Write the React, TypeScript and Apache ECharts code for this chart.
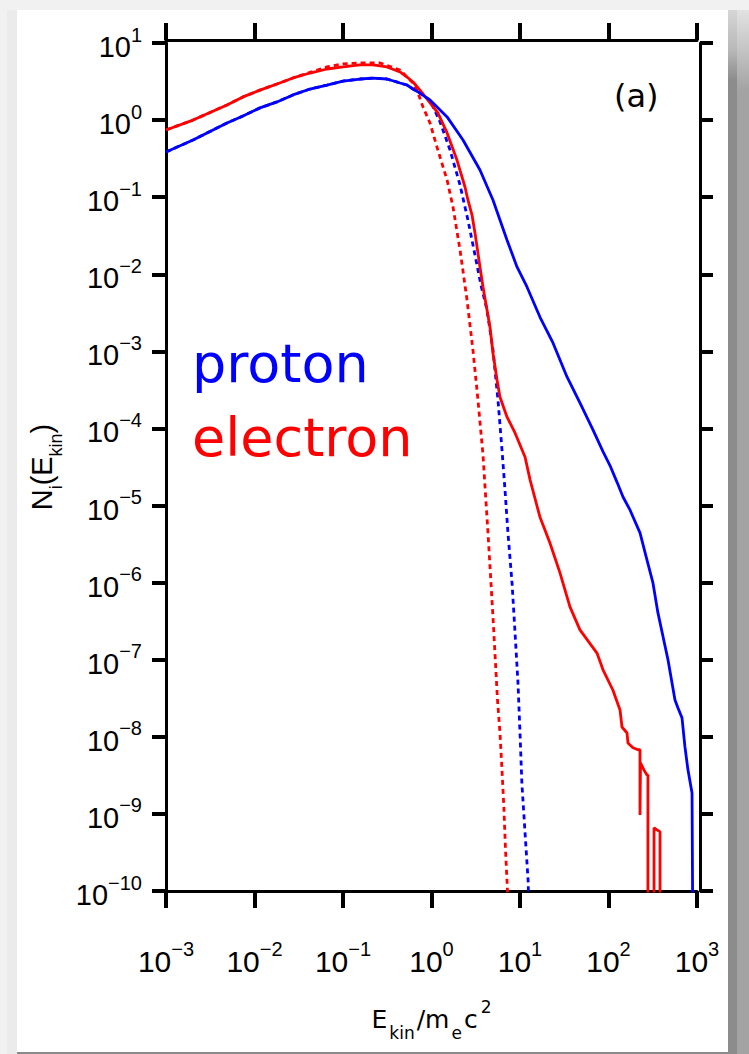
import React, { useEffect, useRef } from "react";
import * as echarts from "echarts";

// ---- axis ranges ----
const X_MIN = 1e-3;
const X_MAX = 1e3;
const Y_MIN = 1e-10;
const Y_MAX = 1e1;

// ---- proton, simulation (solid blue) ----
const protonE = [0.001, 0.00202, 0.00489, 0.00741, 0.01153, 0.01795, 0.0272, 0.0424, 0.0659, 0.1, 0.156, 0.218, 0.314, 0.441, 0.528, 0.618, 0.741, 0.962, 1.5, 2.27, 3.53, 4.95, 7.13, 9.25, 12.0, 16.8, 23.6, 34.0, 47.6, 66.8, 86.7, 104, 125, 146, 175, 227, 272, 318, 362, 470, 564, 610, 677, 731, 791, 879, 901];
const protonN = [0.385, 0.552, 0.916, 1.13, 1.44, 1.72, 2.12, 2.53, 2.85, 3.21, 3.41, 3.5, 3.41, 3.03, 2.85, 2.53, 2.24, 1.82, 1.1, 0.552, 0.2255, 0.0921, 0.0279, 0.01245, 0.00684, 0.00279, 0.001285, 0.000466, 0.000214, 9.57e-5, 5.0e-5, 3.3e-5, 2.0e-5, 1.29e-5, 8.77e-6, 4.42e-6, 1.97e-6, 9.9e-7, 4.05e-7, 1e-7, 3.0e-8, 2.37e-8, 1.76e-8, 7.4e-9, 3.7e-9, 1.87e-9, 1e-11];

// ---- proton, Maxwellian (dashed blue) ----
const protonMaxE = [0.001, 0.00202, 0.00489, 0.00741, 0.01153, 0.01795, 0.0272, 0.0424, 0.0659, 0.1, 0.156, 0.218, 0.314, 0.441, 0.528, 0.618, 0.741, 0.962, 1.25, 1.62, 2.1, 2.58, 3.1, 3.62, 4.24, 4.95, 5.64, 6.26, 6.77, 7.31, 8.13, 8.79, 9.49, 10.0, 10.5, 11.4, 12.4, 12.6];
const protonMaxN = [0.385, 0.552, 0.916, 1.13, 1.44, 1.72, 2.12, 2.53, 2.85, 3.21, 3.41, 3.5, 3.41, 3.03, 2.85, 2.53, 2.24, 1.82, 0.944, 0.409, 0.144, 0.0506, 0.0178, 0.00726, 0.00344, 0.00104, 2.34e-4, 5.26e-5, 1.59e-5, 4.4e-6, 9.9e-7, 2.23e-7, 5.0e-8, 1.12e-8, 2.5e-9, 5.7e-10, 1.27e-10, 1e-11];

// ---- electron, simulation (solid red) ----
const electronE = [0.001, 0.00202, 0.00489, 0.00741, 0.01153, 0.01795, 0.0272, 0.0424, 0.0659, 0.1, 0.156, 0.218, 0.314, 0.441, 0.528, 0.618, 0.741, 0.912, 1.18, 1.5, 1.94, 2.39, 2.58, 2.87, 3.1, 3.53, 3.82, 4.24, 4.58, 4.95, 5.5, 5.94, 7.13, 8.79, 11.4, 13.0, 16.8, 21.8, 28.3, 36.7, 47.6, 74.1, 86.7, 112, 135, 142, 162, 166, 189, 215, 227, 227, 230, 230, 252, 272, 279, 279, 327, 327, 382, 382];
const electronN = [0.745, 1.0, 1.57, 2.0, 2.45, 2.94, 3.52, 4.08, 4.6, 4.89, 5.19, 5.19, 4.89, 4.21, 3.62, 3.12, 2.45, 1.82, 1.24, 0.681, 0.303, 0.1355, 0.092, 0.0587, 0.0344, 0.01245, 0.00684, 0.00344, 0.00207, 0.000953, 0.000426, 0.000256, 0.000141, 8.75e-5, 4.27e-5, 2.15e-5, 7.1e-6, 3.27e-6, 1.34e-6, 4.84e-7, 2.44e-7, 1.22e-7, 7.4e-8, 4.05e-8, 2.23e-8, 1.34e-8, 1.12e-8, 8.3e-9, 7.2e-9, 6.8e-9, 6.8e-9, 9.7e-10, 9.7e-10, 4.6e-9, 3.7e-9, 3.2e-9, 3.2e-9, 1e-11, 1e-11, 6.6e-10, 5.85e-10, 1e-11];

// ---- electron, Maxwellian (dashed red) ----
const electronMaxE = [0.001, 0.00202, 0.00489, 0.00741, 0.01153, 0.01795, 0.0272, 0.0424, 0.0659, 0.1, 0.156, 0.262, 0.441, 0.618, 0.685, 0.802, 0.962, 1.18, 1.5, 1.75, 2.1, 2.52, 2.94, 3.35, 3.82, 4.35, 4.95, 5.57, 5.94, 6.26, 6.59, 6.86, 7.22, 7.3];
const electronMaxN = [0.745, 1.0, 1.57, 2.0, 2.45, 2.94, 3.52, 4.15, 4.89, 5.35, 5.5, 5.5, 4.47, 3.03, 2.45, 1.48, 0.916, 0.409, 0.167, 0.0746, 0.0207, 0.00465, 0.00104, 0.000234, 4.5e-5, 4.4e-6, 3.6e-7, 3.0e-8, 1.12e-8, 3.7e-9, 1.13e-9, 3.4e-10, 1.0e-10, 1e-11];

const BLUE = "#0000ff";
const RED = "#ff0000";
const F_LAB = "'Liberation Sans', Arial, sans-serif";
const F_SANS = "'DejaVu Sans', 'Liberation Sans', sans-serif";

function pairs(xs: number[], ys: number[]) {
  return xs.map((x, i) => [x, ys[i]]);
}

function expLabel(v: number) {
  const e = Math.round(Math.log10(v));
  const s = e < 0 ? "\u2212" + -e : String(e);
  return `{b|10}{s|${s}}`;
}

export default function App() {
  const ref = useRef<HTMLDivElement>(null);
  useEffect(() => {
    if (!ref.current) return;
    const chart = echarts.init(ref.current, undefined, { renderer: "svg" });

    const xRich = {
      b: { fontSize: 30, fontFamily: F_LAB, color: "#000", verticalAlign: "bottom", padding: [7, 0, 0, 0] },
      s: { fontSize: 20, fontFamily: F_LAB, color: "#000", verticalAlign: "top" },
    };
    const yRich = {
      b: { fontSize: 29, fontFamily: F_LAB, color: "#000", verticalAlign: "bottom", padding: [8, 0, 0, 0] },
      s: { fontSize: 20, fontFamily: F_LAB, color: "#000", verticalAlign: "top" },
    };
    const axisLine = { show: true, onZero: false, lineStyle: { color: "#000", width: 3 } };
    const axisTick = { show: true, inside: false, length: 17, interval: 0, lineStyle: { color: "#000", width: 4 } };

    const line = (name: string, data: number[][], color: string, dashed: boolean, z: number) => ({
      name,
      type: "line",
      data,
      showSymbol: false,
      symbol: "none",
      clip: true,
      z,
      lineStyle: { color, width: dashed ? 2.8 : 2.8, type: dashed ? [5, 4] : "solid" },
    });

    const yBase = {
      type: "log",
      logBase: 10,
      min: Y_MIN,
      max: Y_MAX,
      interval: 1,
      splitNumber: 11,
      minorTick: { show: false },
      splitLine: { show: false },
      axisLine,
    };

    const tsub = { fontFamily: F_SANS, color: "#000" };

    chart.setOption({
      animation: false,
      backgroundColor: "transparent",
      grid: { left: 166, right: 52, top: 43, bottom: 163, containLabel: false, outerBoundsMode: "none" },
      xAxis: [
        {
          type: "log",
          logBase: 10,
          min: X_MIN,
          max: X_MAX,
          splitNumber: 6,
          position: "bottom",
          axisLine,
          axisTick,
          minorTick: { show: false },
          splitLine: { show: false },
          axisLabel: { margin: 48, interval: 0, formatter: expLabel, rich: xRich },
          name: "{a|E}{sub|kin}{a|/m}{sub|e}{a|c}{sup|2}",
          nameLocation: "middle",
          nameGap: 107,
          nameTextStyle: {
            rich: {
              a: { ...tsub, fontSize: 25, verticalAlign: "top", padding: [9, 1, 0, 1] },
              sub: { ...tsub, fontSize: 17, verticalAlign: "bottom", padding: [26, 1, 0, 1] },
              sup: { ...tsub, fontSize: 17, verticalAlign: "top", padding: [0, 1, 0, 2] },
            },
          },
        },
        {
          type: "log",
          logBase: 10,
          min: X_MIN,
          max: X_MAX,
          splitNumber: 6,
          position: "top",
          offset: 3,
          axisLine,
          axisTick,
          minorTick: { show: false },
          splitLine: { show: false },
          axisLabel: { show: false },
        },
      ],
      yAxis: [
        {
          ...yBase,
          position: "left",
          axisTick: { ...axisTick, length: 14 },
          axisLabel: { margin: 24, interval: 0, formatter: expLabel, rich: yRich },
          name: "{a|N}{sub|i}{a|(E}{sub|kin}{a|)}",
          nameLocation: "middle",
          nameGap: 97,
          nameTextStyle: {
            rich: {
              a: { fontSize: 29, fontFamily: F_LAB, color: "#000", verticalAlign: "top" },
              sub: { fontSize: 18, fontFamily: F_LAB, color: "#000", verticalAlign: "bottom", padding: [19, 0, 0, 0] },
            },
          },
        },
        {
          ...yBase,
          position: "right",
          offset: 3,
          axisTick: { ...axisTick, length: 13 },
          axisLabel: { show: false },
        },
      ],
      graphic: [
        { type: "text", left: 192, top: 336, style: { text: "proton", fill: BLUE, font: `54px ${F_SANS}` } },
        { type: "text", left: 192, top: 410, style: { text: "electron", fill: RED, font: `54px ${F_SANS}` } },
        { type: "text", left: 614, top: 80, style: { text: "(a)", fill: "#000", font: `32px ${F_SANS}` } },
      ],
      series: [
        line("proton Maxwellian", pairs(protonMaxE, protonMaxN), BLUE, true, 2),
        line("electron Maxwellian", pairs(electronMaxE, electronMaxN), RED, true, 3),
        line("electron", pairs(electronE, electronN), RED, false, 4),
        line("proton", pairs(protonE, protonN), BLUE, false, 5),
      ],
    });
    return () => chart.dispose();
  }, []);

  return (
    <div style={{ position: "absolute", left: 0, top: 0, width: 749, height: 1054, background: "#f1f1f1", overflow: "hidden" }}>
      <div style={{ position: "absolute", left: 7, top: 10, width: 10, height: 1044, background: "#ebebeb" }} />
      <div style={{ position: "absolute", left: 17, top: 10, width: 711, height: 1042, background: "#ffffff" }} />
      <div style={{ position: "absolute", left: 17, top: 1052, width: 732, height: 2, background: "#8a8a8a" }} />
      <div style={{ position: "absolute", left: 728, top: 10, width: 9, height: 1044, background: "linear-gradient(#d6d6d6 0px, #b8b8b8 40px, #8c8c8c 70px, #8c8c8c 1044px)" }} />
      <div style={{ position: "absolute", left: 737, top: 10, width: 12, height: 1044, background: "linear-gradient(#e2e2e2 0px, #c4c4c4 40px, #a3a3a3 80px, #a3a3a3 1044px)" }} />
      <div ref={ref} style={{ position: "absolute", left: 0, top: 0, width: 749, height: 1054 }} />
    </div>
  );
}
